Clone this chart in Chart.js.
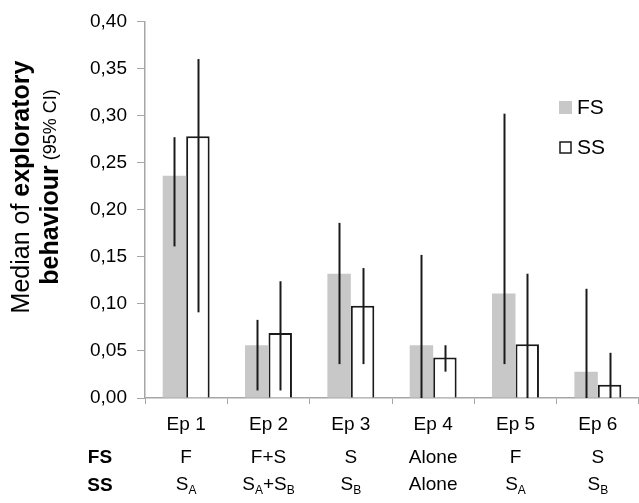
<!DOCTYPE html>
<html>
<head>
<meta charset="utf-8">
<script src="https://cdn.jsdelivr.net/npm/chart.js@4"></script>
<style>
  body { margin: 0; background: #fff; }
  #wrap { width: 639px; height: 503px; }
</style>
</head>
<body>
<div id="wrap"><canvas id="chart" width="639" height="503"></canvas></div>
<script>
// data
const categories = ['Ep 1', 'Ep 2', 'Ep 3', 'Ep 4', 'Ep 5', 'Ep 6'];
const fsPartner = ['F', 'F+S', 'S', 'Alone', 'F', 'S'];
const ssPartner = ['S_A', 'S_A+S_B', 'S_B', 'Alone', 'S_A', 'S_B'];
const fsMedian = [0.236, 0.056, 0.132, 0.056, 0.111, 0.028];
const ssMedian = [0.278, 0.069, 0.098, 0.043, 0.057, 0.014];
const fsLow = [0.161, 0.008, 0.036, 0.000, 0.036, 0.000];
const fsHigh = [0.277, 0.083, 0.186, 0.152, 0.302, 0.116];
const ssLow = [0.091, 0.008, 0.036, 0.028, 0.000, 0.000];
const ssHigh = [0.360, 0.124, 0.138, 0.056, 0.132, 0.048];

const FONT = '"Liberation Sans", Arial, sans-serif';
const axisGray = '#a6a6a6';
const ink = '#1a1a1a';

// error bars: plain vertical lines through each bar centre
const errorBars = {
    id: 'errorBars',
    afterDatasetsDraw(chart) {
        const y = chart.scales.y;
        const ctx = chart.ctx;
        const ranges = [[fsLow, fsHigh], [ssLow, ssHigh]];
        ctx.save();
        ctx.strokeStyle = ink;
        ctx.lineWidth = 2;
        ranges.forEach((r, di) => {
            chart.getDatasetMeta(di).data.forEach((bar, i) => {
                const x = Math.round(bar.x) + 0.5;
                ctx.beginPath();
                ctx.moveTo(x, y.getPixelForValue(r[0][i]));
                ctx.lineTo(x, y.getPixelForValue(r[1][i]));
                ctx.stroke();
            });
        });
        ctx.restore();
    }
};

// draws "S_A" style text with subscripts, centred on x
function drawSubText(ctx, str, x, y, size) {
    const parts = [];
    for (let i = 0; i < str.length; i++) {
        if (str[i] === '_') { parts.push({ t: str[i + 1], sub: true }); i++; }
        else parts.push({ t: str[i], sub: false });
    }
    const big = size + 'px ' + FONT, small = Math.round(size * 0.65) + 'px ' + FONT;
    let w = 0;
    parts.forEach(p => { ctx.font = p.sub ? small : big; p.w = ctx.measureText(p.t).width; w += p.w; });
    let cx = x - w / 2;
    ctx.textAlign = 'left';
    parts.forEach(p => {
        ctx.font = p.sub ? small : big;
        ctx.fillText(p.t, cx, p.sub ? y + size * 0.3 : y);
        cx += p.w;
    });
}

function drawRuns(ctx, runs, x, y) {
    let w = 0;
    runs.forEach(r => { ctx.font = r.f; r.w = ctx.measureText(r.t).width; w += r.w; });
    let cx = x - w / 2;
    ctx.textAlign = 'left';
    runs.forEach(r => { ctx.font = r.f; ctx.fillText(r.t, cx, y); cx += r.w; });
}

const annotations = {
    id: 'annotations',
    afterDraw(chart) {
        const ctx = chart.ctx;
        const xs = chart.scales.x;
        ctx.save();
        ctx.fillStyle = '#000';
        ctx.textBaseline = 'middle';

        // partner rows under the episode labels
        ctx.font = 'bold 19px ' + FONT;
        ctx.textAlign = 'center';
        ctx.fillText('FS', 100, 458);
        ctx.fillText('SS', 100, 486);
        categories.forEach((c, i) => {
            const px = xs.getPixelForValue(i);
            ctx.font = '19px ' + FONT;
            ctx.textAlign = 'center';
            ctx.fillText(fsPartner[i], px, 458);
            drawSubText(ctx, ssPartner[i], px, 485, 19);
        });

        // legend
        ctx.fillStyle = '#c8c8c8';
        ctx.fillRect(559, 101, 13, 13);
        ctx.fillStyle = '#fff';
        ctx.fillRect(560, 142, 11, 11);
        ctx.strokeStyle = ink;
        ctx.lineWidth = 1.5;
        ctx.strokeRect(560, 142, 11, 11);
        ctx.fillStyle = '#000';
        ctx.font = '21px ' + FONT;
        ctx.textAlign = 'left';
        ctx.fillText('FS', 577, 108);
        ctx.fillText('SS', 577, 148);

        // y axis title, two lines with mixed weights
        ctx.translate(0, 187);
        ctx.rotate(-Math.PI / 2);
        drawRuns(ctx, [
            { t: 'Median of ', f: '25px ' + FONT },
            { t: 'exploratory', f: 'bold 25px ' + FONT }
        ], 0, 22);
        drawRuns(ctx, [
            { t: 'behaviour', f: 'bold 25px ' + FONT },
            { t: ' (95% CI)', f: '18px ' + FONT }
        ], 0, 51);
        ctx.restore();
    }
};

new Chart(document.getElementById('chart').getContext('2d'), {
    type: 'bar',
    data: {
        labels: categories,
        datasets: [{
                label: 'FS',
                data: fsMedian,
                backgroundColor: '#c8c8c8',
                borderWidth: 0
            }, {
                label: 'SS',
                data: ssMedian,
                backgroundColor: '#ffffff',
                borderColor: ink,
                borderWidth: { top: 2, left: 2, right: 2, bottom: 0 }
            }]
    },
    options: {
        responsive: false,
        animation: false,
        layout: { padding: { top: 21, right: 0, left: 0, bottom: 0 } },
        datasets: { bar: { categoryPercentage: 0.57, barPercentage: 1.0 } },
        plugins: { legend: { display: false }, tooltip: { enabled: false } },
        scales: {
            x: {
                grid: { offset: true, drawOnChartArea: false, tickLength: 6, color: axisGray },
                border: { color: axisGray, width: 1.5 },
                ticks: { color: '#000', padding: 9, font: { family: FONT, size: 19 } },
                afterFit: s => { s.height = 105; }
            },
            y: {
                min: 0,
                max: 0.4,
                grid: { drawOnChartArea: false, tickLength: 8, color: axisGray },
                border: { color: axisGray, width: 1.5 },
                ticks: {
                    stepSize: 0.05,
                    color: '#000',
                    padding: 10,
                    font: { family: FONT, size: 19 },
                    callback: v => v.toFixed(2).replace('.', ',')
                },
                afterFit: s => { s.width = 145; }
            }
        }
    },
    plugins: [errorBars, annotations]
});
</script>
</body>
</html>
